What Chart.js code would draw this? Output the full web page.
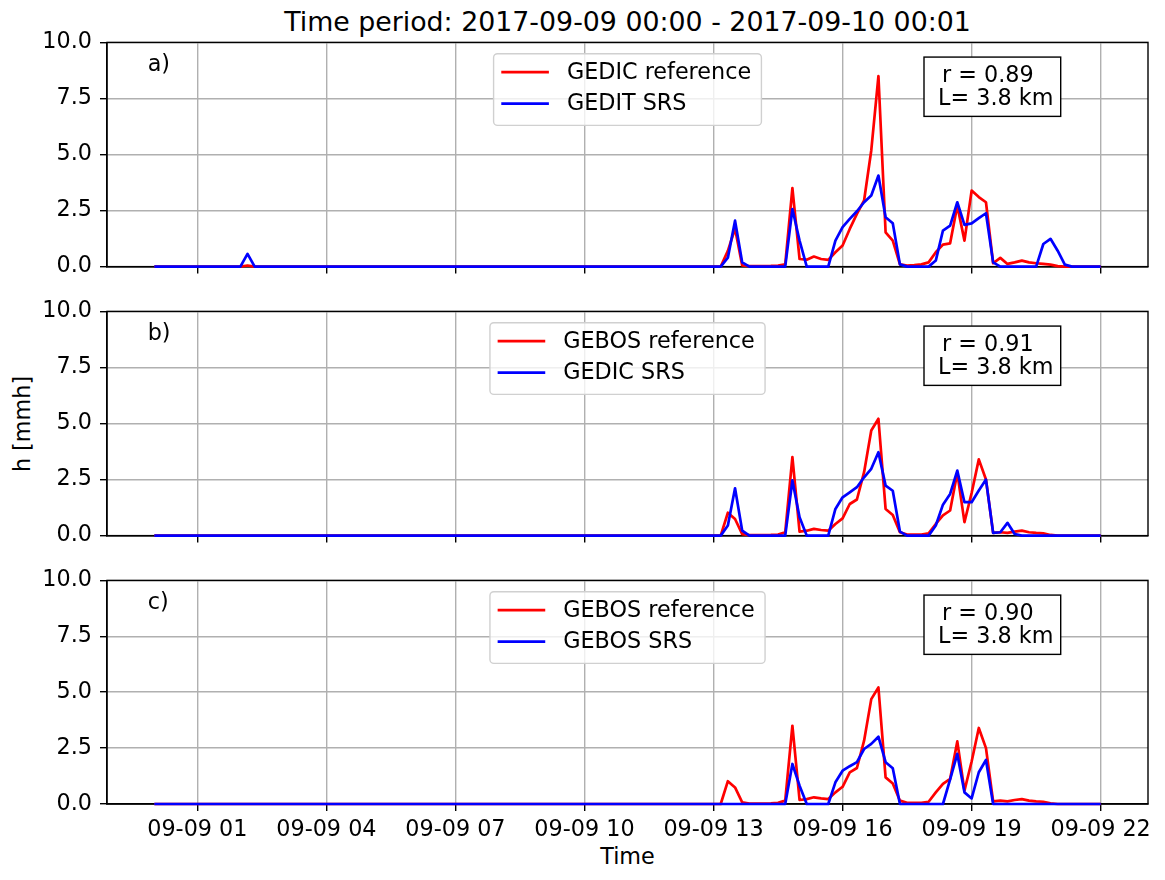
<!DOCTYPE html>
<html><head><meta charset="utf-8">
<script src="https://cdn.jsdelivr.net/npm/chart.js@4.4.0/dist/chart.umd.min.js"></script>
<style>
html,body{margin:0;padding:0;background:#fff;}
body{width:1165px;height:880px;position:relative;overflow:hidden;font-family:"DejaVu Sans",sans-serif;}
canvas{position:absolute;left:0;}
.lbl{position:absolute;color:#000;white-space:nowrap;}
</style></head><body>
<div class="lbl" style="left:0;width:1255px;top:6px;text-align:center;font-size:26.8px;line-height:31px;">Time period: 2017-09-09 00:00 - 2017-09-10 00:01</div>
<div class="lbl" style="left:0;width:1255px;top:843px;text-align:center;font-size:22.3px;line-height:26px;">Time</div>
<div class="lbl" style="left:22px;top:424px;font-size:22.3px;line-height:26px;transform:translate(-50%,-50%) rotate(-90deg);">h [mmh]</div>
<canvas id="ca" width="1165" height="250" style="top:26px"></canvas>
<canvas id="cb" width="1165" height="250" style="top:295px"></canvas>
<canvas id="cc" width="1165" height="280" style="top:564px"></canvas>
<script>
const timeLabels = ["00:00","02:00","02:10","02:20",
 "13:00","13:10","13:20","13:30","13:40","13:50","14:00","14:10","14:20","14:30",
 "14:40","14:50","15:00","15:10","15:20","15:30","15:40","15:50","16:00","16:10",
 "16:20","16:30","16:40","16:50","17:00","17:10","17:20","17:30","17:40","17:50",
 "18:00","18:10","18:20","18:30","18:40","18:50","19:00","19:10","19:20","19:30",
 "19:40","19:50","20:00","20:10","20:20","20:30","20:40","20:50","21:00","21:10",
 "21:20","21:30","22:00"];

const gedicReferenceA = [0,0,0.05,0,
 0,0,0.7,1.7,0.05,0.02,0.02,0.02,0.03,0.05,
 0.1,3.5,0.34,0.31,0.45,0.34,0.3,0.64,0.94,1.68,
 2.35,2.95,5.18,8.5,1.53,1.16,0.1,0.05,0.07,0.1,
 0.19,0.64,0.98,1.04,2.72,1.16,3.39,3.1,2.87,0.15,
 0.39,0.12,0.19,0.27,0.19,0.15,0.12,0.09,0.02,0,
 0,0,0];
const geditSrsA = [0,0,0.57,0,
 0,0,0.4,2.05,0.19,0,0,0,0,0,
 0,2.57,1.16,0,0,0,0,1.16,1.76,2.13,
 2.47,2.87,3.17,4.06,2.2,1.93,0.1,0,0,0,
 0,0.27,1.61,1.83,2.87,1.86,1.93,2.16,2.38,0.19,
 0,0,0,0,0,0,1.01,1.24,0.71,0.09,
 0,0,0];
const gebosReference = [0,0,0,0,
 0,0,1.02,0.74,0.07,0.02,0.02,0.02,0.03,0.05,
 0.15,3.5,0.18,0.22,0.3,0.25,0.22,0.52,0.77,1.41,
 1.61,2.83,4.69,5.21,1.19,0.92,0.15,0.05,0.05,0.05,
 0.1,0.52,0.9,1.12,2.8,0.6,1.9,3.4,2.5,0.12,
 0.15,0.12,0.18,0.22,0.15,0.12,0.1,0.03,0,0,
 0,0,0];
const gedicSrsB = [0,0,0,0,
 0,0,0.45,2.11,0.22,0,0,0,0,0,
 0,2.46,0.82,0,0,0,0,1.19,1.71,1.93,
 2.16,2.6,2.98,3.72,2.23,2.0,0.18,0,0,0,
 0,0.45,1.38,1.86,2.9,1.49,1.49,2.01,2.5,0.12,
 0.15,0.57,0.07,0,0,0,0,0,0,0,
 0,0,0];
const gebosSrsC = [0,0,0,0,
 0,0,0,0,0,0,0,0,0,0,
 0,1.79,0.82,0,0,0,0,0.97,1.49,1.69,
 1.87,2.46,2.69,3.01,1.87,1.6,0,0,0,0,
 0,0,0,1.1,2.24,0.52,0.25,1.42,1.97,0,
 0,0,0,0,0,0,0,0,0,0,
 0,0,0];

const xTickHours = [1,4,7,10,13,16,19,22];
const xTickLabels = ["09-09 01","09-09 04","09-09 07","09-09 10","09-09 13","09-09 16","09-09 19","09-09 22"];
const yTicks = [0,2.5,5,7.5,10];

const FONT = '"DejaVu Sans", sans-serif';
const FS = 22.3;
function toHours(t){const p=t.split(':');return +p[0] + (+p[1])/60;}
function pts(arr){return timeLabels.map((t,i)=>({x:toHours(t), y:arr[i]}));}

const decoPlugin = {
  id:'panelDeco',
  beforeDatasetsDraw(chart){
    const ca=chart.chartArea, ctx=chart.ctx;
    ctx.save();
    ctx.strokeStyle='#000'; ctx.lineWidth=1.4;
    ctx.strokeRect(ca.left, ca.top, ca.right-ca.left, ca.bottom-ca.top);
    ctx.restore();
  },
  afterDatasetsDraw(chart, args, opts){
    const ca=chart.chartArea, ctx=chart.ctx;
    ctx.save();
    ctx.font=FS+'px '+FONT;
    ctx.textBaseline='middle'; ctx.textAlign='left'; ctx.fillStyle='#000';
    ctx.fillText(opts.letter, ca.left+40.7, ca.top+22.5);
    const ds=chart.data.datasets;
    let tw=0; ds.forEach(d=>{tw=Math.max(tw, ctx.measureText(d.label).width);});
    const w=7.7+47.6+18+tw+10.3, h=71.7;
    const x0=(ca.left+ca.right)/2 - w/2, y0=ca.top+11.3;
    ctx.beginPath();
    ctx.roundRect(x0,y0,w,h,4);
    ctx.fillStyle='rgba(255,255,255,0.8)'; ctx.fill();
    ctx.strokeStyle='#d0d0d0'; ctx.lineWidth=1.4; ctx.stroke();
    ds.forEach((d,i)=>{
      const yy=y0+18.4+i*31.6;
      ctx.beginPath(); ctx.moveTo(x0+7.7,yy); ctx.lineTo(x0+55.3,yy);
      ctx.strokeStyle=d.borderColor; ctx.lineWidth=2.7; ctx.stroke();
      ctx.fillStyle='#000'; ctx.fillText(d.label, x0+73.3, yy+1);
    });
    const bx=ca.left+817, by=ca.top+14.7, bw=136.7, bh=59.3;
    ctx.fillStyle='#fff'; ctx.fillRect(bx,by,bw,bh);
    ctx.strokeStyle='#000'; ctx.lineWidth=1.4; ctx.strokeRect(bx,by,bw,bh);
    ctx.fillStyle='#000';
    ctx.fillText('r = '+opts.r, bx+18, by+18.8);
    ctx.fillText('L= '+opts.L+' km', bx+14, by+42);
    ctx.restore();
  }
};

function config(redLabel, redData, blueLabel, blueData, deco, showX){
  return {
    type:'line',
    data:{datasets:[
      {label:redLabel, data:pts(redData), borderColor:'#ff0000', backgroundColor:'#ff0000', borderWidth:2.7, pointRadius:0, tension:0, order:2, clip:false, borderJoinStyle:'round'},
      {label:blueLabel, data:pts(blueData), borderColor:'#0000ff', backgroundColor:'#0000ff', borderWidth:2.7, pointRadius:0, tension:0, order:1, clip:false, borderJoinStyle:'round'}
    ]},
    options:{
      responsive:false, animation:false, devicePixelRatio:1,
      layout:{padding:{top:16,right:17,left:0,bottom:0}},
      plugins:{legend:{display:false}, tooltip:{enabled:false}, panelDeco:deco},
      scales:{
        x:{type:'linear', min:-1.1, max:23.1,
          afterBuildTicks:s=>{s.ticks=xTickHours.map(v=>({value:v}));},
          afterFit:s=>{s.height = showX?40:10;},
          ticks:{display:showX, autoSkip:false, maxRotation:0, padding:6, color:'#000',
            font:{family:FONT,size:FS}, callback:(v,i)=>xTickLabels[i]},
          grid:{color:'#b0b0b0', lineWidth:1.4, drawTicks:true, tickLength:7, tickColor:'#000', tickWidth:1.4},
          border:{display:true, color:'#000', width:1.4}},
        y:{min:0, max:10,
          afterBuildTicks:s=>{s.ticks=yTicks.map(v=>({value:v}));},
          afterFit:s=>{s.width=107;},
          ticks:{padding:8, color:'#000', font:{family:FONT,size:FS}, callback:v=>v.toFixed(1)},
          grid:{color:'#b0b0b0', lineWidth:1.4, drawTicks:true, tickLength:7, tickColor:'#000', tickWidth:1.4},
          border:{display:true, color:'#000', width:1.4}}
      }
    },
    plugins:[decoPlugin]
  };
}

// place each panel so its plot area spans [top, bottom] on the page
function placePanel(id, cfgArgs, plotTop, plotBottom){
  const cv=document.getElementById(id);
  let ch=new Chart(cv, config(...cfgArgs));
  const want=plotBottom-plotTop;
  const have=ch.chartArea.bottom-ch.chartArea.top;
  const newH=Math.round(cv.height + (want-have));
  ch.destroy();
  cv.height=newH; cv.style.height=newH+'px'; cv.style.width='1165px';
  ch=new Chart(cv, config(...cfgArgs));
  cv.style.top=(plotTop-ch.chartArea.top)+'px';
  return ch;
}

placePanel('ca',['GEDIC reference',gedicReferenceA,'GEDIT SRS',geditSrsA,{letter:'a)',r:'0.89',L:'3.8'},false],42,266);
placePanel('cb',['GEBOS reference',gebosReference,'GEDIC SRS',gedicSrsB,{letter:'b)',r:'0.91',L:'3.8'},false],311,535);
placePanel('cc',['GEBOS reference',gebosReference,'GEBOS SRS',gebosSrsC,{letter:'c)',r:'0.90',L:'3.8'},true],580,803.5);
</script>
</body></html>
